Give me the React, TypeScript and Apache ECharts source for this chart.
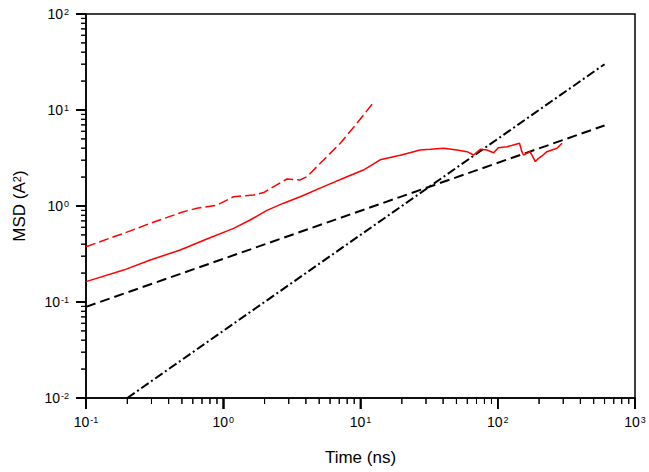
import React, { useEffect, useRef } from "react";
import * as echarts from "echarts";

// Red solid curve: [time (ns), MSD]
const solidX = [0.1, 0.188, 0.294, 0.486, 0.76, 1.19, 1.57, 2.08, 2.75, 3.64, 5.38, 7.97, 10.5, 13.9, 19.5, 27.2, 32.2, 40.3, 50.4, 59.7, 66.7, 74.5, 83.4, 93.3, 101, 117, 144, 150, 154, 163, 172, 188, 198, 210, 228, 248, 270, 294];
const solidY = [0.163, 0.215, 0.274, 0.348, 0.453, 0.585, 0.715, 0.9, 1.07, 1.25, 1.59, 2.02, 2.37, 3.03, 3.38, 3.83, 3.89, 3.99, 3.83, 3.68, 3.4, 3.89, 3.83, 3.59, 4.05, 4.15, 4.5, 3.68, 3.4, 3.54, 3.68, 2.9, 3.14, 3.32, 3.68, 3.83, 3.99, 4.5];

// Red dashed curve
const dashedX = [0.1, 0.188, 0.294, 0.514, 0.643, 0.9, 1.19, 1.66, 1.97, 2.33, 2.91, 3.64, 4.07, 5.38, 7.12, 9.42, 12.4];
const dashedY = [0.377, 0.519, 0.66, 0.873, 0.946, 1.02, 1.25, 1.3, 1.38, 1.59, 1.91, 1.87, 2.02, 3.01, 4.5, 7.27, 11.9];

// Black dashed reference line (slope 1/2)
const halfX = [0.1, 600];
const halfY = [0.089, 6.9];

// Black dash-dot reference line (slope 1)
const oneX = [0.2, 600];
const oneY = [0.01, 30];

// Axis ranges, decades and minor tick multipliers
const xRange = [0.1, 1000];
const yRange = [0.01, 100];
const xDecades = [0.1, 1, 10, 100, 1000];
const yDecades = [0.01, 0.1, 1, 10, 100];
const minorMult = [2, 3, 4, 5, 6, 7, 8, 9];

const zip = (xs: number[], ys: number[]) => xs.map((x, i) => [x, ys[i]]);

const FONT = "'Liberation Sans', Arial, sans-serif";

const supLabel = (v: number) => {
  const e = Math.round(Math.log10(v));
  return `{b|10}{s|${e}}`;
};

const labelRich = {
  b: { fontSize: 14, fontFamily: FONT, color: "#000" },
  s: { fontSize: 9, fontFamily: FONT, color: "#000", verticalAlign: "top", padding: [0, 0, 0, 1] },
};

const X_MAJOR_LEN = 11;
const X_MINOR_LEN = 6;
const Y_MAJOR_LEN = 10;
const Y_MINOR_LEN = 5;

function tickShape(p: number[], horizontal: boolean, len: number) {
  return horizontal
    ? { x1: p[0] - len, y1: p[1], x2: p[0], y2: p[1] }
    : { x1: p[0], y1: p[1], x2: p[0], y2: p[1] + len };
}

function tickSeries(data: number[][], horizontal: boolean, len: number, width: number) {
  return {
    type: "custom",
    clip: false,
    silent: true,
    z: 5,
    data,
    renderItem: (params: any, api: any) => {
      const p = api.coord([api.value(0), api.value(1)]);
      return { type: "line", shape: tickShape(p, horizontal, len), style: { stroke: "#000", lineWidth: width } };
    },
  };
}

export default function App() {
  const ref = useRef<HTMLDivElement>(null);

  useEffect(() => {
    document.body.style.margin = "0";
    if (!ref.current) return;
    const chart = echarts.init(ref.current, undefined, { renderer: "svg" });

    const xMajor = xDecades.map((d) => [d, yRange[0]]);
    const yMajor = yDecades.map((d) => [xRange[0], d]);
    const xMinor: number[][] = [];
    xDecades.slice(0, -1).forEach((d) => minorMult.forEach((m) => xMinor.push([d * m, yRange[0]])));
    const yMinor: number[][] = [];
    yDecades.slice(0, -1).forEach((d) => minorMult.forEach((m) => yMinor.push([xRange[0], d * m])));

    const axisTick = (len: number) => ({
      show: true,
      inside: false,
      length: len,
      lineStyle: { color: "#000", width: 1.5 },
    });

    const baseOption = {
      animation: false,
      backgroundColor: "#fff",
      grid: {
        left: 86,
        right: 14,
        top: 14,
        bottom: 74,
        show: true,
        borderColor: "#000",
        borderWidth: 1.5,
        backgroundColor: "transparent",
      },
      xAxis: {
        type: "log",
        min: xRange[0],
        max: xRange[1],
        name: "Time (ns)",
        nameLocation: "middle",
        nameGap: 51,
        nameTextStyle: { fontSize: 17, fontFamily: FONT, color: "#000" },
        axisLine: { lineStyle: { color: "#000", width: 1.5 } },
        axisTick: axisTick(X_MAJOR_LEN),
        splitLine: { show: false },
        minorTick: { show: false },
        axisLabel: { formatter: supLabel, margin: 17, rich: labelRich },
      },
      yAxis: {
        type: "log",
        min: yRange[0],
        max: yRange[1],
        name: "{t|MSD (A}{s|2}{t|)}",
        nameLocation: "middle",
        nameGap: 58,
        nameTextStyle: {
          rich: {
            t: { fontSize: 17, fontFamily: FONT, color: "#000" },
            s: { fontSize: 11, fontFamily: FONT, color: "#000", verticalAlign: "top" },
          },
        },
        axisLine: { lineStyle: { color: "#000", width: 1.5 } },
        axisTick: axisTick(Y_MAJOR_LEN),
        splitLine: { show: false },
        minorTick: { show: false },
        axisLabel: { formatter: supLabel, margin: 17, rich: labelRich },
      },
      series: [
        tickSeries(xMajor, false, X_MAJOR_LEN, 1.5),
        tickSeries(xMinor, false, X_MINOR_LEN, 1),
        tickSeries(yMajor, true, Y_MAJOR_LEN, 1.5),
        tickSeries(yMinor, true, Y_MINOR_LEN, 1),
      ],
    };

    try {
      chart.setOption(baseOption);
    } catch (e) {
      console.error(e);
    }

    // Tick marks placed through the grid's own scales
    try {
      const groups: [number[][], boolean, number, number][] = [
        [xMajor, false, X_MAJOR_LEN, 1.5],
        [xMinor, false, X_MINOR_LEN, 1],
        [yMajor, true, Y_MAJOR_LEN, 1.5],
        [yMinor, true, Y_MINOR_LEN, 1],
      ];
      const elements: any[] = [];
      groups.forEach(([data, horizontal, len, width]) => {
        data.forEach((d) => {
          const p = chart.convertToPixel({ gridIndex: 0 }, d) as number[];
          if (!p || isNaN(p[0]) || isNaN(p[1])) return;
          elements.push({
            type: "line",
            silent: true,
            z: 100,
            shape: tickShape(p, horizontal, len),
            style: { stroke: "#000", lineWidth: width },
          });
        });
      });
      chart.setOption({ graphic: { elements } });
    } catch (e) {
      console.error(e);
    }

    try {
      chart.setOption({
        series: [
          ...baseOption.series,
          {
            type: "line",
            data: zip(halfX, halfY),
            showSymbol: false,
            lineStyle: { color: "#000", width: 2, type: [10, 5] },
            z: 2,
          },
          {
            type: "line",
            data: zip(oneX, oneY),
            showSymbol: false,
            lineStyle: { color: "#000", width: 2, type: [9, 3, 2, 3] },
            z: 2,
          },
          {
            type: "line",
            data: zip(solidX, solidY),
            showSymbol: false,
            lineStyle: { color: "#ff0000", width: 1.5 },
            z: 3,
          },
          {
            type: "line",
            data: zip(dashedX, dashedY),
            showSymbol: false,
            lineStyle: { color: "#ff0000", width: 1.5, type: [10, 4] },
            z: 3,
          },
        ],
      });
    } catch (e) {
      console.error(e);
    }

    return () => chart.dispose();
  }, []);

  return <div ref={ref} style={{ width: 649, height: 472 }} />;
}
